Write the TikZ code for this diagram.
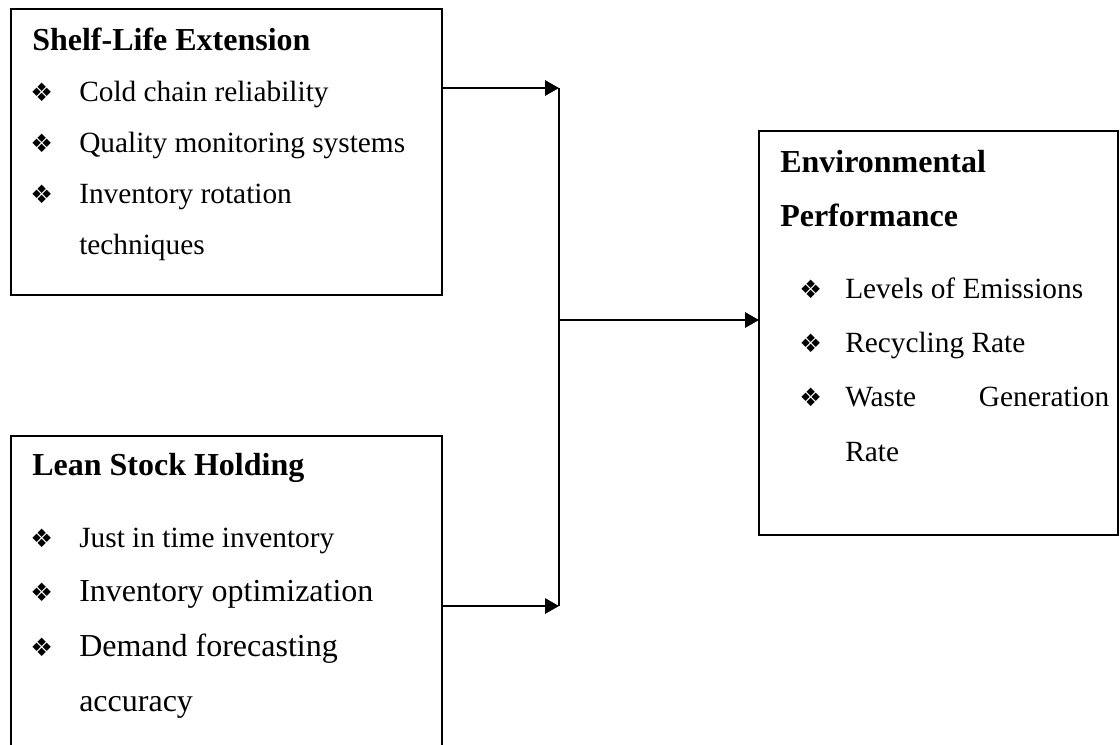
\documentclass[tikz,border=0pt]{standalone}
\usepackage{fontspec}
\setmainfont{Liberation Serif}
\newfontfamily\dejavu{DejaVu Sans}
\usetikzlibrary{arrows.meta}
\newcommand\bulglyph{{\dejavu\fontsize{19}{19}\selectfont ❖}}
\tikzset{
  x=0.75pt, y=-0.75pt,
  box/.style={draw, line width=1.5pt, minimum width=#1, inner sep=0pt, outer sep=0pt},
  txt/.style={anchor=base west, inner sep=0pt, font=\fontsize{22}{22}\selectfont},
  big/.style={anchor=base west, inner sep=0pt, font=\fontsize{24}{24}\selectfont},
  head/.style={anchor=base west, inner sep=0pt, font=\fontsize{24}{24}\selectfont\bfseries},
  bul/.style={anchor=base west, inner sep=0pt},
  conn/.style={line width=1.5pt},
  arr/.style={line width=1.5pt, -{Triangle[length=10.5pt, width=11.5pt]}},
}
\begin{document}
\begin{tikzpicture}
\useasboundingbox (0,0) rectangle (1120,744);
\clip (0,0) rectangle (1120,744);
% boxes
\node[box=323.25pt, minimum height=214.5pt] (shelf) at (226.5,152) {};
\node[box=323.25pt, minimum height=250.5pt] (lean) at (226.5,603) {};
\node[box=269.25pt, minimum height=303pt] (env) at (938.5,333) {};
% top box text
\node[head] (h1) at (32,50) {Shelf-Life Extension};
\node[bul] (b11) at (30,101) {\bulglyph};
\node[txt] (t11) at (79,101) {Cold chain reliability};
\node[bul] (b12) at (30,152) {\bulglyph};
\node[txt] (t12) at (79,152) {Quality monitoring systems};
\node[bul] (b13) at (30,203) {\bulglyph};
\node[txt] (t13) at (79,203) {Inventory rotation};
\node[txt] (t14) at (79,254) {techniques};
% bottom box text
\node[head] (h2) at (32,475) {Lean Stock Holding};
\node[bul] (b21) at (30,547) {\bulglyph};
\node[txt] (t21) at (79,547) {Just in time inventory};
\node[bul] (b22) at (30,601) {\bulglyph};
\node[big] (t22) at (79,601) {Inventory optimization};
\node[bul] (b23) at (30,656) {\bulglyph};
\node[big] (t23) at (79,656) {Demand forecasting};
\node[big] (t24) at (79,711) {accuracy};
% right box text
\node[head] (h3) at (780,172) {Environmental};
\node[head] (h4) at (780,226) {Performance};
\node[bul] (b31) at (799,298) {\bulglyph};
\node[txt] (t31) at (845,298) {Levels of Emissions};
\node[bul] (b32) at (799,352) {\bulglyph};
\node[txt] (t32) at (845,352) {Recycling Rate};
\node[bul] (b33) at (799,406) {\bulglyph};
\node[txt] (t33) at (845,406) {\makebox[198pt][s]{Waste Generation}};
\node[txt] (t34) at (845,461) {Rate};
% connectors
\coordinate (j1) at (559,88);
\coordinate (j2) at (559,606);
\coordinate (jm) at (559,320);
\draw[arr] (shelf.east |- j1) -- (j1);
\draw[arr] (lean.east |- j2) -- (j2);
\draw[conn] (j1) -- (j2);
\draw[arr] (jm) -- (env.west |- jm);
\end{tikzpicture}
\end{document}
